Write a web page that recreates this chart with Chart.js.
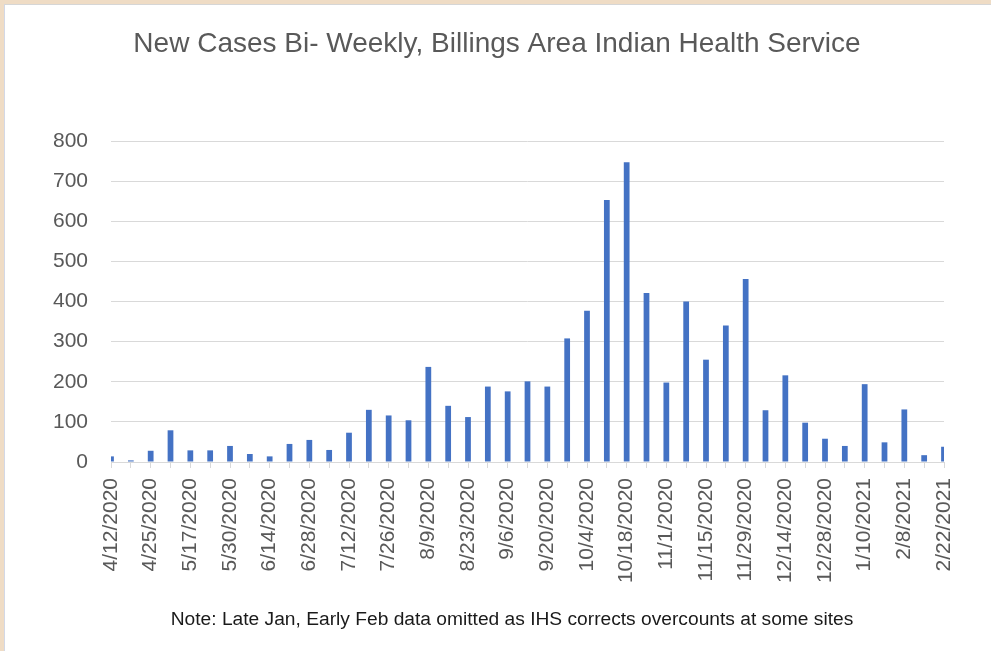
<!DOCTYPE html>
<html>
<head>
<meta charset="utf-8">
<script src="https://cdn.jsdelivr.net/npm/chart.js@4"></script>
<style>
  html, body { margin: 0; padding: 0; width: 991px; height: 651px; overflow: hidden; background: #efdcc5; }
  #frame { position: absolute; left: 4px; top: 4px; width: 987px; height: 647px; background: #ffffff;
           border-top: 1px solid #d6d6d6; border-left: 1px solid #d3d8e6; box-sizing: border-box; }
  #c { position: absolute; left: 1px; top: 0px; }
</style>
</head>
<body>
<div id="frame"><canvas id="c" width="986" height="646"></canvas></div>
<script>
// ---- data ----
const tickLabels = ["4/12/2020","4/25/2020","5/17/2020","5/30/2020","6/14/2020","6/28/2020","7/12/2020","7/26/2020","8/9/2020","8/23/2020","9/6/2020","9/20/2020","10/4/2020","10/18/2020","11/1/2020","11/15/2020","11/29/2020","12/14/2020","12/28/2020","1/10/2021","2/8/2021","2/22/2021"];
const newCases = [14,4,28,79,29,29,40,20,14,45,55,30,73,130,116,104,237,140,112,188,176,201,188,308,377,653,747,421,198,400,255,340,456,129,216,98,58,40,194,49,131,17,38];
const yTicks = [0,100,200,300,400,500,600,700,800];
const titleText = "New Cases Bi- Weekly, Billings Area Indian Health Service";
const noteText = "Note: Late Jan, Early Feb data omitted as IHS corrects overcounts at some sites";

// one category per bar; only every other category carries a date label
const categories = newCases.map((v, i) => (i % 2 === 0 ? (tickLabels[i / 2] || "") : ""));

const FONT = "'Liberation Sans', Arial, sans-serif";
const GREY_TEXT = "#595959";
const GRID = "#d9d9d9";

const notePlugin = {
  id: "note",
  afterDraw(chart) {
    const ctx = chart.ctx;
    ctx.save();
    ctx.font = "19.2px " + FONT;
    ctx.fillStyle = "#1a1a1a";
    ctx.textAlign = "center";
    ctx.textBaseline = "middle";
    ctx.fillText(noteText, 506, 615);
    ctx.restore();
  }
};

new Chart(document.getElementById("c"), {
  type: "bar",
  data: {
    labels: categories,
    datasets: [{
      label: "New Cases",
      data: newCases,
      backgroundColor: "#4472c4",
      borderWidth: 0,
      categoryPercentage: 1,
      barPercentage: 0.29
    }]
  },
  options: {
    responsive: false,
    animation: false,
    devicePixelRatio: 1,
    layout: { padding: { left: 44, right: 48, top: 0, bottom: 59 } },
    plugins: {
      legend: { display: false },
      tooltip: { enabled: false },
      title: {
        display: true,
        text: titleText,
        color: GREY_TEXT,
        font: { family: FONT, size: 28, weight: "normal", lineHeight: 1.2 },
        padding: { top: 22, bottom: 80.4 }
      }
    },
    scales: {
      x: {
        offset: false,
        grid: { display: true, drawOnChartArea: false, drawTicks: true, tickLength: 6, color: GRID, offset: false },
        border: { display: true, color: GRID, width: 1 },
        ticks: {
          autoSkip: false, minRotation: 90, maxRotation: 90, padding: 10,
          color: GREY_TEXT, font: { family: FONT, size: 21 }
        },
        afterFit(scale) { scale.height = 130; }
      },
      y: {
        min: 0, max: 800,
        afterBuildTicks(scale) { scale.ticks = yTicks.map(v => ({ value: v })); },
        grid: { color: GRID, drawTicks: false, lineWidth: 1 },
        border: { display: false },
        ticks: { padding: 23, color: GREY_TEXT, font: { family: FONT, size: 21 } },
        afterFit(scale) { scale.width = 61; }
      }
    }
  },
  plugins: [notePlugin]
});
</script>
</body>
</html>
